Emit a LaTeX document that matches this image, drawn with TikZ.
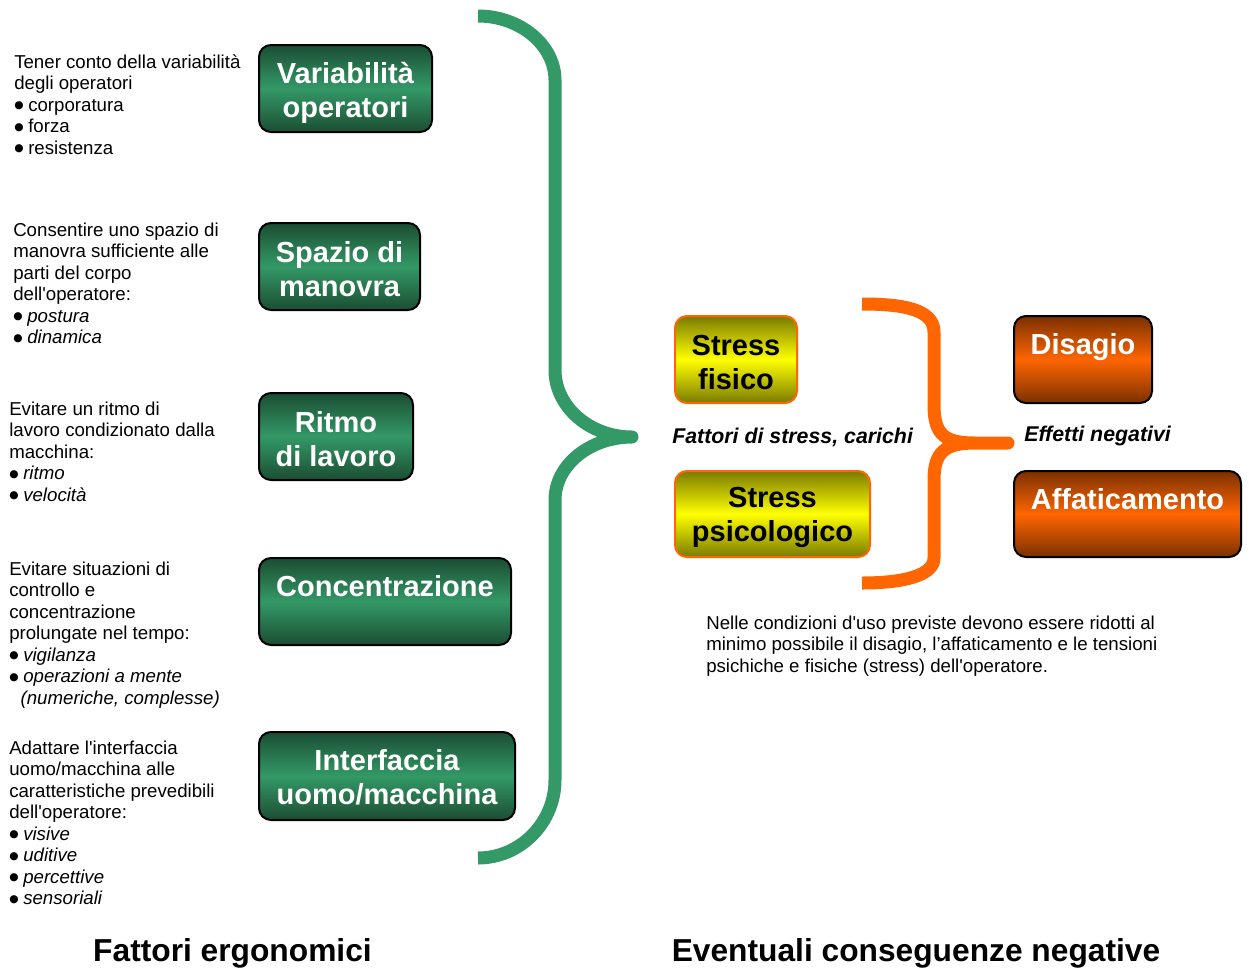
\documentclass[tikz,border=0pt]{standalone}
\usepackage{fontspec}
\setmainfont{Liberation Sans}
\newfontfamily\bulfont{DejaVu Sans}
\newcommand\bul{\makebox[10.5pt][l]{\raisebox{1.8pt}{\bulfont\fontsize{8}{8}\selectfont ●}}}
\newcommand\q{\textquotesingle}
\newcommand\fl[1]{\rule{0pt}{#1}}
\definecolor{gmid}{HTML}{339966}
\definecolor{gdark}{HTML}{1B4D33}
\definecolor{ymid}{HTML}{FFFF00}
\definecolor{ydark}{HTML}{7A7A00}
\definecolor{omid}{HTML}{FF6600}
\definecolor{odark}{HTML}{7A3000}
\begin{document}
\begin{tikzpicture}[x=0.75pt,y=-0.75pt,
  body/.style={anchor=north west,inner sep=0pt,align=left,font=\fontsize{14}{16.1}\selectfont},
  boxbase/.style={rounded corners=9pt,line width=1.5pt,inner sep=0pt,align=center,
    font=\fontsize{21.75}{25.5}\selectfont\bfseries},
  gbox/.style={boxbase,draw=black,top color=gdark,bottom color=gdark,middle color=gmid,text=white},
  ybox/.style={boxbase,draw=omid,top color=ydark,bottom color=ydark,middle color=ymid,text=black},
  obox/.style={boxbase,draw=black,top color=odark,bottom color=odark,middle color=omid,text=white},
  lbl/.style={anchor=west,inner sep=0pt,font=\fontsize{16}{19}\selectfont\bfseries\itshape},
  heading/.style={anchor=base,inner sep=0pt,font=\fontsize{23.8}{28}\selectfont\bfseries},
  gbrace/.style={draw=gmid,line width=9.75pt,line join=round},
  obrace/.style={draw=omid,line width=9.75pt,line join=round}]
\useasboundingbox (0,0) rectangle (1249,968);

% left texts
\node[body] (t1) at (14,53) {\strut Tener conto della variabilità\\degli operatori\\\bul corporatura\\\bul forza\\\bul resistenza};
\node[body] (t2) at (13,221) {\strut Consentire uno spazio di\\manovra sufficiente alle\\parti del corpo\\dell\q operatore:\\\bul \textit{postura}\\\bul \textit{dinamica}};
\node[body] (t3) at (9,400) {\strut Evitare un ritmo di\\lavoro condizionato dalla\\macchina:\\\bul \textit{ritmo}\\\bul \textit{velocità}};
\node[body] (t4) at (9,560) {\strut Evitare situazioni di\\controllo e\\concentrazione\\prolungate nel tempo:\\\bul \textit{vigilanza}\\\bul \textit{operazioni a mente}\\\hspace*{8.5pt}\textit{(numeriche, complesse)}};
\node[body] (t5) at (9,739) {\strut Adattare l\q interfaccia\\uomo/macchina alle\\caratteristiche prevedibili\\dell\q operatore:\\\bul \textit{visive}\\\bul \textit{uditive}\\\bul \textit{percettive}\\\bul \textit{sensoriali}};

% green boxes
\node[gbox,minimum width=173*0.75pt,minimum height=87*0.75pt] (b1) at (345.5,88.5) {\fl{23pt}Variabilità\\operatori};
\node[gbox,minimum width=161*0.75pt,minimum height=87*0.75pt] (b2) at (339.5,266.5) {\fl{19.5pt}Spazio di\\manovra};
\node[gbox,minimum width=154*0.75pt,minimum height=87*0.75pt] (b3) at (336,436.5) {\fl{19.5pt}Ritmo\\di lavoro};
\node[gbox,minimum width=252*0.75pt,minimum height=87*0.75pt] (b4) at (385,601.5) {\fl{18pt}Concentrazione\\\mbox{}};
\node[gbox,minimum width=256*0.75pt,minimum height=88*0.75pt] (b5) at (387,776) {\fl{18pt}Interfaccia\\uomo/macchina};

% green brace
\coordinate (g1) at (478,16);
\coordinate (g2) at (632,437);
\coordinate (g3) at (478,858);
\draw[gbrace] (g1) .. controls (520,16) and (555,45) .. (555,80) -- (555,370)
  .. controls (555,407) and (590,437) .. (g2)
  .. controls (590,437) and (555,465) .. (555,500) -- (555,780)
  .. controls (555,823) and (520,858) .. (g3);

% yellow boxes
\node[ybox,minimum width=122*0.75pt,minimum height=87*0.75pt] (y1) at (736,359.5) {\fl{20pt}Stress\\fisico};
\node[ybox,minimum width=195*0.75pt,minimum height=86*0.75pt] (y2) at (772.5,514) {\fl{20pt}Stress\\psicologico};
\node[lbl] (l1) at (672,437) {Fattori di stress, carichi};

% orange brace
\coordinate (o1) at (862,304);
\coordinate (o2) at (1008,443);
\coordinate (o3) at (862,583);
\draw[obrace] (o1) .. controls (905,304) and (934,310) .. (934,332) -- (934,405)
  .. controls (934,435) and (945,443) .. (975,443) -- (o2)
  -- (975,443) .. controls (945,443) and (934,452) .. (934,480) -- (934,558)
  .. controls (934,575) and (905,583) .. (o3);

% orange boxes
\node[obox,minimum width=138*0.75pt,minimum height=87*0.75pt] (r1) at (1083,359.5) {\fl{18.5pt}Disagio\\\mbox{}};
\node[obox,minimum width=227*0.75pt,minimum height=86*0.75pt] (r2) at (1127.5,514) {\fl{18.5pt}Affaticamento\\\mbox{}};
\node[lbl] (l2) at (1024,435.5) {Effetti negativi};

\node[body] (t6) at (706,614) {\strut Nelle condizioni d\q uso previste devono essere ridotti al\\minimo possibile il disagio, l’affaticamento e le tensioni\\psichiche e fisiche (stress) dell\q operatore.};

\node[heading] (h1) at (232.5,961) {Fattori ergonomici};
\node[heading] (h2) at (916,961) {Eventuali conseguenze negative};
\end{tikzpicture}
\end{document}
